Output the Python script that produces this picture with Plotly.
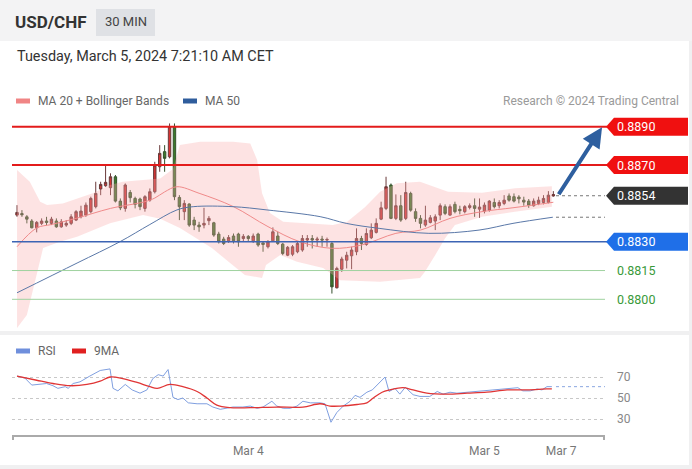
import plotly.graph_objects as go

W, H = 692, 469

# ---------------- data ----------------
CANDLE_IDX = list(range(110))
OPEN = [0.88439, 0.88447, 0.88430, 0.88408, 0.88373, 0.88396, 0.88408, 0.88396, 0.88408, 0.88378,
        0.88387, 0.88396, 0.88413, 0.88430, 0.88439, 0.88457, 0.88483, 0.88575, 0.88592, 0.88582,
        0.88639, 0.88512, 0.88474, 0.88557, 0.88526, 0.88523, 0.88474, 0.88517, 0.88561, 0.88691,
        0.88770, 0.88743, 0.88900, 0.88531, 0.88457, 0.88497, 0.88413, 0.88387, 0.88387, 0.88410,
        0.88399, 0.88340, 0.88314, 0.88305, 0.88330, 0.88340, 0.88317, 0.88328, 0.88305, 0.88340,
        0.88294, 0.88274, 0.88305, 0.88330, 0.88288, 0.88230, 0.88235, 0.88248, 0.88257, 0.88309,
        0.88317, 0.88309, 0.88314, 0.88309, 0.88291, 0.88060, 0.88157, 0.88204, 0.88227, 0.88248,
        0.88317, 0.88286, 0.88321, 0.88349, 0.88418, 0.88474, 0.88596, 0.88422, 0.88488, 0.88422,
        0.88552, 0.88457, 0.88422, 0.88387, 0.88401, 0.88408, 0.88439, 0.88483, 0.88439, 0.88495,
        0.88469, 0.88457, 0.88479, 0.88488, 0.88470, 0.88460, 0.88465, 0.88505, 0.88488, 0.88500,
        0.88539, 0.88535, 0.88533, 0.88517, 0.88512, 0.88488, 0.88500, 0.88505, 0.88505, 0.88539]
HIGH = [0.88491, 0.88465, 0.88439, 0.88418, 0.88408, 0.88422, 0.88430, 0.88430, 0.88422, 0.88418,
        0.88413, 0.88444, 0.88465, 0.88488, 0.88505, 0.88535, 0.88613, 0.88613, 0.88700, 0.88657,
        0.88648, 0.88526, 0.88604, 0.88570, 0.88535, 0.88530, 0.88543, 0.88578, 0.88717, 0.88804,
        0.88804, 0.88917, 0.88917, 0.88543, 0.88517, 0.88500, 0.88430, 0.88404, 0.88477, 0.88434,
        0.88404, 0.88352, 0.88326, 0.88335, 0.88343, 0.88347, 0.88340, 0.88335, 0.88343, 0.88347,
        0.88300, 0.88309, 0.88375, 0.88352, 0.88294, 0.88278, 0.88283, 0.88300, 0.88335, 0.88335,
        0.88335, 0.88326, 0.88331, 0.88322, 0.88300, 0.88170, 0.88222, 0.88248, 0.88274, 0.88370,
        0.88331, 0.88370, 0.88396, 0.88422, 0.88509, 0.88639, 0.88604, 0.88547, 0.88543, 0.88613,
        0.88561, 0.88474, 0.88439, 0.88488, 0.88439, 0.88443, 0.88500, 0.88495, 0.88495, 0.88509,
        0.88488, 0.88491, 0.88500, 0.88526, 0.88526, 0.88505, 0.88517, 0.88526, 0.88517, 0.88543,
        0.88552, 0.88552, 0.88543, 0.88535, 0.88523, 0.88526, 0.88535, 0.88543, 0.88564, 0.88564]
LOW = [0.88430, 0.88430, 0.88396, 0.88370, 0.88349, 0.88387, 0.88387, 0.88387, 0.88373, 0.88373,
       0.88378, 0.88387, 0.88408, 0.88422, 0.88430, 0.88448, 0.88474, 0.88543, 0.88587, 0.88543,
       0.88505, 0.88465, 0.88457, 0.88505, 0.88474, 0.88465, 0.88457, 0.88509, 0.88552, 0.88665,
       0.88665, 0.88735, 0.88517, 0.88413, 0.88413, 0.88378, 0.88361, 0.88352, 0.88370, 0.88387,
       0.88326, 0.88291, 0.88283, 0.88294, 0.88291, 0.88274, 0.88300, 0.88300, 0.88294, 0.88274,
       0.88248, 0.88265, 0.88300, 0.88283, 0.88230, 0.88225, 0.88225, 0.88240, 0.88248, 0.88274,
       0.88265, 0.88274, 0.88274, 0.88274, 0.88030, 0.88057, 0.88143, 0.88161, 0.88157, 0.88230,
       0.88257, 0.88279, 0.88314, 0.88343, 0.88413, 0.88465, 0.88418, 0.88413, 0.88404, 0.88413,
       0.88457, 0.88404, 0.88370, 0.88378, 0.88396, 0.88361, 0.88413, 0.88439, 0.88436, 0.88448,
       0.88443, 0.88448, 0.88469, 0.88430, 0.88425, 0.88448, 0.88457, 0.88474, 0.88474, 0.88491,
       0.88509, 0.88505, 0.88500, 0.88488, 0.88477, 0.88483, 0.88491, 0.88495, 0.88500, 0.88535]
CLOSE = [0.88453, 0.88441, 0.88418, 0.88373, 0.88401, 0.88408, 0.88401, 0.88418, 0.88378, 0.88404,
         0.88396, 0.88430, 0.88457, 0.88460, 0.88491, 0.88526, 0.88552, 0.88599, 0.88610, 0.88639,
         0.88512, 0.88477, 0.88596, 0.88530, 0.88495, 0.88483, 0.88535, 0.88561, 0.88700, 0.88761,
         0.88735, 0.88900, 0.88535, 0.88483, 0.88500, 0.88387, 0.88387, 0.88378, 0.88396, 0.88422,
         0.88335, 0.88300, 0.88291, 0.88322, 0.88305, 0.88300, 0.88328, 0.88317, 0.88330, 0.88283,
         0.88286, 0.88300, 0.88352, 0.88291, 0.88239, 0.88271, 0.88274, 0.88291, 0.88317, 0.88317,
         0.88309, 0.88314, 0.88309, 0.88312, 0.88065, 0.88161, 0.88210, 0.88230, 0.88257, 0.88317,
         0.88291, 0.88343, 0.88361, 0.88396, 0.88477, 0.88587, 0.88422, 0.88488, 0.88413, 0.88557,
         0.88465, 0.88422, 0.88396, 0.88413, 0.88425, 0.88430, 0.88488, 0.88448, 0.88483, 0.88457,
         0.88462, 0.88483, 0.88488, 0.88474, 0.88481, 0.88491, 0.88512, 0.88483, 0.88505, 0.88517,
         0.88517, 0.88512, 0.88524, 0.88507, 0.88491, 0.88512, 0.88517, 0.88526, 0.88543, 0.88546]

MA20_X = [0, 4, 7, 12, 19, 26, 28, 30, 32.5, 37, 44, 51, 57.5, 64, 70, 77, 82, 88, 94.5, 101, 109]
MA20 = [0.88274, 0.88372, 0.88390, 0.88422, 0.88474, 0.88509, 0.88528, 0.88560, 0.88587, 0.88553,
        0.88483, 0.88379, 0.88300, 0.88266, 0.88283, 0.88344, 0.88361, 0.88422, 0.88457, 0.88478, 0.88506]

BB_UP_X = [0, 2.6, 4.7, 6.1, 9.3, 15.4, 18.9, 21.5, 25.6, 29.1, 31.7, 33.1, 37.2, 43.9, 47.4, 48.8,
           49.8, 51.4, 54.1, 64.2, 67.1, 70.7, 73.8, 77.2, 81.9, 87.6, 94.5, 101.2, 108.7]
BB_UP = [0.88674, 0.88613, 0.88509, 0.88492, 0.88500, 0.88553, 0.88596, 0.88613, 0.88622, 0.88630,
         0.88680, 0.88805, 0.88822, 0.88822, 0.88813, 0.88726, 0.88553, 0.88450, 0.88405, 0.88387,
         0.88405, 0.88480, 0.88561, 0.88605, 0.88613, 0.88561, 0.88555, 0.88579, 0.88590]
BB_LO_X = [0, 2, 4.1, 5.3, 8.7, 12.2, 18.9, 25.6, 29.1, 33.1, 39.6, 42.9, 46.3, 49.8, 50.6, 53.5,
           56.9, 62.2, 65.7, 73.8, 81.9, 82.9, 85, 87, 89, 94.5, 101.2, 108.7]
BB_LO = [0.87850, 0.87918, 0.88144, 0.88267, 0.88300, 0.88326, 0.88396, 0.88440, 0.88420, 0.88372,
         0.88267, 0.88196, 0.88127, 0.88111, 0.88179, 0.88231, 0.88196, 0.88163, 0.88100, 0.88092,
         0.88111, 0.88144, 0.88231, 0.88318, 0.88387, 0.88431, 0.88457, 0.88483]

MA50_X = [0, 12.2, 20.9, 27, 32.5, 35.8, 43.9, 50.8, 61.6, 66.9, 73.6, 83.7, 93.9, 100.8, 108.9]
MA50 = [0.88034, 0.88189, 0.88300, 0.88390, 0.88466, 0.88483, 0.88483, 0.88466, 0.88431, 0.88396,
        0.88370, 0.88344, 0.88361, 0.88396, 0.88428]

RSI_X = [0, 1.6, 3, 4, 6, 7.3, 8.3, 9.8, 10.4, 11.4, 12.8, 14.8, 16.9, 18.9, 19.5, 20.5, 22, 23.4,
         25, 26.4, 27.6, 28.7, 29.7, 30.7, 31.7, 32.7, 33.7, 34.8, 36.6, 38.6, 39.8, 41.3, 42.7,
         43.9, 45.9, 47.4, 48.8, 50, 51.8, 52.8, 54.1, 55.5, 56.9, 58.1, 59.6, 61.6, 62.6, 63.8,
         65, 66.3, 67.7, 68.7, 69.7, 71.1, 72.2, 73.4, 74.8, 75.6, 76.8, 77.8, 78.9, 80.5, 81.9,
         83.9, 85.4, 86.6, 88, 89.4, 91.5, 92.7, 94.7, 96.7, 98.8, 100.8, 101.8, 102.8, 104.3,
         105.7, 106.7, 107.7, 108.7]
RSI = [70.9, 69, 62.3, 63, 63.8, 61.7, 59.2, 60.8, 59.2, 63.8, 65.4, 70.9, 76.2, 77.7, 59.2, 56.8,
       62.9, 57.7, 54.6, 57.7, 68.5, 72.2, 70.9, 77.1, 50.6, 48.5, 50, 45.4, 44.5, 44.5, 41.4, 39.2,
       40.2, 41.4, 41.4, 42.3, 40.2, 41.4, 46.9, 42.3, 40.2, 40.2, 42.3, 46.9, 45.4, 45.4, 44.5,
       26.9, 36.2, 42.3, 46.9, 52.5, 50.6, 55.5, 57.7, 63.8, 70, 56.2, 59.2, 53.7, 60.2, 53.1, 51.5,
       51.5, 56.2, 53.7, 55.5, 54.6, 55.5, 56.2, 56.8, 57.7, 59.2, 59.8, 59.8, 56.8, 56.8, 58.6,
       57.7, 60.8, 60.8]

RSI_MA_X = [0, 4, 7.3, 10.8, 14.2, 16.9, 18.9, 21.5, 24.4, 27, 28.5, 31.1, 33.7, 36.6, 38.6, 40.6,
            43.3, 47.4, 52.8, 58.1, 61.6, 63.6, 65.7, 69.1, 71.1, 72.4, 74.2, 75.8, 78.4, 80.5,
            83.3, 87.4, 91.5, 95.5, 99.6, 103.7, 107.7, 108.7]
RSI_MA = [70.9, 66.9, 63.8, 61.7, 62.9, 66, 70, 68.5, 64.8, 60.8, 59.2, 62.9, 60.8, 56.2, 50, 43.2,
          40.8, 40.8, 41.4, 41.4, 44.5, 42.3, 42.3, 43.8, 45.4, 50, 55.5, 57.7, 59.8, 57.7, 54.6,
          53.7, 54.6, 55.5, 57.7, 57.7, 58.6, 58.6]

LEVELS_RES = [0.8890, 0.8870]
LEVEL_LAST = 0.8854
LEVEL_PIVOT = 0.8830
LEVELS_SUP = [0.8815, 0.8800]
RSI_TICKS = [30, 50, 70]
XTICK_POS = [47, 95, 110.6]
XTICK_TEXT = ["Mar 4", "Mar 5", "Mar 7"]

# ---------------- geometry / style ----------------
FONT = "Roboto, Liberation Sans, Arial, sans-serif"
PX_L, PX_R = 12, 605
MAIN_TOP, MAIN_BOT = 115, 330
RSI_TOP, RSI_BOT = 360, 435
Y_RANGE = [0.87840, 0.88961]
RSI_RANGE = [14.76, 86.19]
X_RANGE = [-1.02, 119.5]


def px(x):
    return x / W


def py(y):
    return 1 - y / H


def price_per_px():
    return (Y_RANGE[1] - Y_RANGE[0]) / (MAIN_BOT - MAIN_TOP)


fig = go.Figure()

# Bollinger band
fig.add_trace(go.Scatter(
    x=BB_UP_X + BB_LO_X[::-1], y=BB_UP + BB_LO[::-1], fill="toself",
    fillcolor="rgba(248,170,170,0.33)", line=dict(width=0), mode="lines",
    hoverinfo="skip", showlegend=False, xaxis="x", yaxis="y"))
fig.add_trace(go.Scatter(x=MA20_X, y=MA20, mode="lines", line=dict(color="#f08a8a", width=1, shape="spline"),
                         showlegend=False, xaxis="x", yaxis="y"))
fig.add_trace(go.Scatter(x=MA50_X, y=MA50, mode="lines", line=dict(color="#5a78a8", width=1, shape="spline"),
                         showlegend=False, xaxis="x", yaxis="y"))
fig.add_trace(go.Candlestick(
    x=CANDLE_IDX, open=OPEN, high=HIGH, low=LOW, close=CLOSE,
    increasing=dict(fillcolor="#d63434", line=dict(color="#6a3a3a", width=1)),
    decreasing=dict(fillcolor="#3b7a2c", line=dict(color="#34502c", width=1)),
    whiskerwidth=0, showlegend=False, xaxis="x", yaxis="y"))

# RSI
fig.add_trace(go.Scatter(x=RSI_X, y=RSI, mode="lines", line=dict(color="#7f9fe0", width=1),
                         showlegend=False, xaxis="x2", yaxis="y2"))
fig.add_trace(go.Scatter(x=RSI_MA_X, y=RSI_MA, mode="lines", line=dict(color="#e03535", width=1.3, shape="spline"),
                         showlegend=False, xaxis="x2", yaxis="y2"))

shapes = []
annotations = []

# background pieces
shapes.append(dict(type="rect", xref="paper", yref="paper", x0=0, x1=1, y0=py(41), y1=1,
                   fillcolor="#f3f3f4", line=dict(width=0), layer="below"))
shapes.append(dict(type="rect", xref="paper", yref="paper", x0=px(96), x1=px(155), y0=py(36), y1=py(9),
                   fillcolor="#dfe1e5", line=dict(width=0), layer="below"))
shapes.append(dict(type="rect", xref="paper", yref="paper", x0=0, x1=1, y0=py(335), y1=py(331),
                   fillcolor="#f0f0f1", line=dict(width=0), layer="below"))
shapes.append(dict(type="rect", xref="paper", yref="paper", x0=0, x1=1, y0=0, y1=py(465),
                   fillcolor="#f0f0f1", line=dict(width=0), layer="below"))
shapes.append(dict(type="rect", xref="paper", yref="paper", x0=px(689), x1=1, y0=0, y1=py(41),
                   fillcolor="#f0f0f1", line=dict(width=0), layer="below"))

annotations.append(dict(text="<b>USD/CHF</b>", xref="paper", yref="paper", x=px(13), y=py(22),
                        xanchor="left", yanchor="middle", showarrow=False,
                        font=dict(family=FONT, size=17, color="#333")))
annotations.append(dict(text="30 MIN", xref="paper", yref="paper", x=px(125.5), y=py(22),
                        xanchor="center", yanchor="middle", showarrow=False,
                        font=dict(family=FONT, size=13, color="#444")))
annotations.append(dict(text="Tuesday, March 5, 2024 7:21:10 AM CET", xref="paper", yref="paper",
                        x=px(15), y=py(57), xanchor="left", yanchor="middle", showarrow=False,
                        font=dict(family=FONT, size=14.4, color="#333")))

# legends
def swatch(x0, y, color):
    shapes.append(dict(type="rect", xref="paper", yref="paper", x0=px(x0), x1=px(x0 + 14),
                       y0=py(y + 2.5), y1=py(y - 2.5), fillcolor=color, line=dict(width=0)))


def legend_text(x, y, t, color="#666"):
    annotations.append(dict(text=t, xref="paper", yref="paper", x=px(x), y=py(y), xanchor="left",
                            yanchor="middle", showarrow=False, font=dict(family=FONT, size=12, color=color)))


swatch(16, 101, "#f08585")
legend_text(36, 101, "MA 20 + Bollinger Bands")
swatch(183, 101, "#2f5d9c")
legend_text(203, 101, "MA 50")
annotations.append(dict(text="Research © 2024 Trading Central", xref="paper", yref="paper", x=px(681),
                        y=py(101), xanchor="right", yanchor="middle", showarrow=False,
                        font=dict(family=FONT, size=12, color="#9a9a9a")))
swatch(16, 351, "#6f8fdc")
legend_text(36, 351, "RSI")
swatch(72, 351, "#e02020")
legend_text(92, 351, "9MA")

# level lines
for lv in LEVELS_RES:
    shapes.append(dict(type="line", xref="paper", yref="y", x0=px(PX_L), x1=px(PX_R + 2), y0=lv, y1=lv,
                       line=dict(color="#e31b1b", width=2)))
shapes.append(dict(type="line", xref="paper", yref="y", x0=px(PX_L), x1=px(PX_R + 2), y0=LEVEL_PIVOT,
                   y1=LEVEL_PIVOT, line=dict(color="#3c64b4", width=1.5)))
for lv in LEVELS_SUP:
    shapes.append(dict(type="line", xref="paper", yref="y", x0=px(PX_L), x1=px(PX_R), y0=lv, y1=lv,
                       line=dict(color="#9fd29f", width=1)))

# dotted extensions
shapes.append(dict(type="line", xref="paper", yref="y", x0=px(556), x1=px(PX_R), y0=LEVEL_LAST,
                   y1=LEVEL_LAST, line=dict(color="#777", width=1, dash="dot")))
shapes.append(dict(type="line", xref="paper", yref="y", x0=px(556), x1=px(PX_R), y0=MA50[-1],
                   y1=MA50[-1], line=dict(color="#777", width=1, dash="dot")))
shapes.append(dict(type="line", xref="paper", yref="y2", x0=px(556), x1=px(PX_R), y0=RSI[-1],
                   y1=RSI[-1], line=dict(color="#8aa6e0", width=1, dash="dot")))

# label boxes
half = 9 * price_per_px()


def label_box(level, color):
    x0, x1, x2 = px(606), px(614), px(688)
    path = (f"M {x0},{level} L {x1},{level + half} L {x2},{level + half} "
            f"L {x2},{level - half} L {x1},{level - half} Z")
    shapes.append(dict(type="path", xref="paper", yref="y", path=path, fillcolor=color,
                       line=dict(width=0)))
    annotations.append(dict(text=f"{level:.4f}", xref="paper", yref="y", x=px(615), y=level,
                            xanchor="left", yanchor="middle", showarrow=False,
                            font=dict(family=FONT, size=12.5, color="white")))


for lv in LEVELS_RES:
    label_box(lv, "#f01010")
label_box(LEVEL_LAST, "#333333")
label_box(LEVEL_PIVOT, "#1f6fe8")
for lv in LEVELS_SUP:
    annotations.append(dict(text=f"{lv:.4f}", xref="paper", yref="y", x=px(615), y=lv,
                            xanchor="left", yanchor="middle", showarrow=False,
                            font=dict(family=FONT, size=12.5, color="#3a9a3a")))

# RSI tick labels
for t in RSI_TICKS:
    annotations.append(dict(text=str(t), xref="paper", yref="y2", x=px(615), y=t, xanchor="left",
                            yanchor="middle", showarrow=False, font=dict(family=FONT, size=12, color="#888")))

# axis end ticks
for xe in (PX_L + 1, PX_R - 1):
    shapes.append(dict(type="line", xref="paper", yref="paper", x0=px(xe), x1=px(xe), y0=py(RSI_BOT),
                       y1=py(RSI_BOT + 5), line=dict(color="#aaa", width=2)))

# forecast arrow
annotations.append(dict(text="", x=X_RANGE[1] - 0.6, y=LEVELS_RES[0] - 0.00003, xref="x", yref="y",
                        ax=CANDLE_IDX[-1] + 0.9, ay=LEVEL_LAST, axref="x", ayref="y",
                        showarrow=True, arrowhead=2, arrowsize=1, arrowwidth=4, arrowcolor="#2e5f9f"))

fig.update_layout(
    width=W, height=H, margin=dict(l=0, r=0, t=0, b=0),
    paper_bgcolor="white", plot_bgcolor="rgba(0,0,0,0)",
    showlegend=False, shapes=shapes, annotations=annotations,
    xaxis=dict(domain=[px(PX_L), px(PX_R)], range=X_RANGE, visible=False, anchor="y",
               rangeslider=dict(visible=False), fixedrange=True),
    yaxis=dict(domain=[py(MAIN_BOT), py(MAIN_TOP)], range=Y_RANGE, visible=False, anchor="x"),
    xaxis2=dict(domain=[px(PX_L), px(PX_R)], range=X_RANGE, anchor="y2", showline=True,
                linecolor="#aaa", linewidth=2, showgrid=False, zeroline=False,
                tickvals=XTICK_POS, ticktext=XTICK_TEXT, ticks="", ticklabelstandoff=4,
                tickfont=dict(family=FONT, size=12, color="#777")),
    yaxis2=dict(domain=[py(RSI_BOT), py(RSI_TOP)], range=RSI_RANGE, anchor="x2", tickvals=RSI_TICKS,
                showticklabels=False, showgrid=True, gridcolor="#c8c8c8", griddash="dot",
                gridwidth=1, zeroline=False, showline=False),
)

fig.write_html("out.html", config={"displayModeBar": False},
               post_script="document.body.style.margin='0';document.body.style.overflow='hidden';")
